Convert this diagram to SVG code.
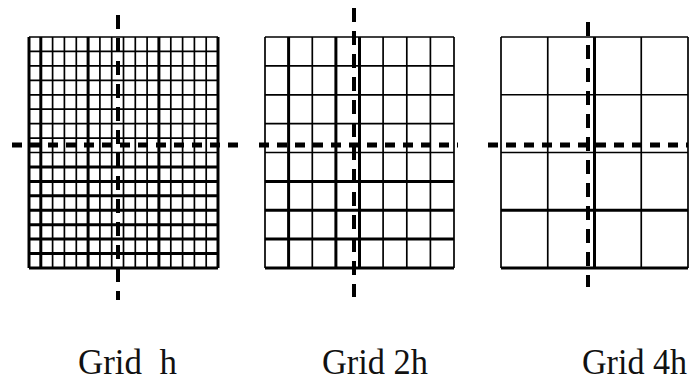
<svg xmlns="http://www.w3.org/2000/svg" width="693" height="383" viewBox="0 0 693 383">
<style>
.g line{stroke:#000;stroke-width:1.7}
.g .t{stroke-width:3}
.bg{fill:#fff}
.hd{stroke:#000;stroke-width:5;stroke-dasharray:10 8;fill:none}
.vd{stroke:#000;stroke-width:4;stroke-dasharray:14 9;fill:none}
.lbl{font-family:"Liberation Serif","Times New Roman",serif;font-size:36px;fill:#111;white-space:pre}
</style>
<rect width="693" height="383" fill="#fff"/>
<g id="grid-h" class="g">
<rect class="bg" x="29" y="37" width="189" height="231"/>
<line class="t" x1="29" y1="37" x2="29" y2="268"/>
<line class="t" x1="40.8" y1="37" x2="40.8" y2="268"/>
<line x1="52.6" y1="37" x2="52.6" y2="268"/>
<line x1="64.4" y1="37" x2="64.4" y2="268"/>
<line x1="76.3" y1="37" x2="76.3" y2="268"/>
<line class="t" x1="88.1" y1="37" x2="88.1" y2="268"/>
<line x1="99.9" y1="37" x2="99.9" y2="268"/>
<line x1="111.7" y1="37" x2="111.7" y2="268"/>
<line x1="123.5" y1="37" x2="123.5" y2="268"/>
<line x1="135.3" y1="37" x2="135.3" y2="268"/>
<line x1="147.1" y1="37" x2="147.1" y2="268"/>
<line class="t" x1="158.9" y1="37" x2="158.9" y2="268"/>
<line x1="170.8" y1="37" x2="170.8" y2="268"/>
<line x1="182.6" y1="37" x2="182.6" y2="268"/>
<line x1="194.4" y1="37" x2="194.4" y2="268"/>
<line x1="206.2" y1="37" x2="206.2" y2="268"/>
<line class="t" x1="218" y1="37" x2="218" y2="268"/>
<line x1="29" y1="37" x2="218" y2="37"/>
<line x1="29" y1="51.4" x2="218" y2="51.4"/>
<line x1="29" y1="65.9" x2="218" y2="65.9"/>
<line x1="29" y1="80.3" x2="218" y2="80.3"/>
<line x1="29" y1="94.8" x2="218" y2="94.8"/>
<line x1="29" y1="109.2" x2="218" y2="109.2"/>
<line x1="29" y1="123.6" x2="218" y2="123.6"/>
<line x1="29" y1="138.1" x2="218" y2="138.1"/>
<line x1="29" y1="152.5" x2="218" y2="152.5"/>
<line class="t" x1="29" y1="166.9" x2="218" y2="166.9"/>
<line class="t" x1="29" y1="181.4" x2="218" y2="181.4"/>
<line class="t" x1="29" y1="195.8" x2="218" y2="195.8"/>
<line class="t" x1="29" y1="210.3" x2="218" y2="210.3"/>
<line class="t" x1="29" y1="224.7" x2="218" y2="224.7"/>
<line class="t" x1="29" y1="239.1" x2="218" y2="239.1"/>
<line class="t" x1="29" y1="253.6" x2="218" y2="253.6"/>
<line class="t" x1="29" y1="268" x2="218" y2="268"/>
</g>
<g id="grid-2h" class="g">
<rect class="bg" x="265" y="37" width="189" height="231"/>
<line x1="265" y1="37" x2="265" y2="268"/>
<line class="t" x1="288.6" y1="37" x2="288.6" y2="268"/>
<line x1="312.3" y1="37" x2="312.3" y2="268"/>
<line class="t" x1="335.9" y1="37" x2="335.9" y2="268"/>
<line class="t" x1="359.5" y1="37" x2="359.5" y2="268"/>
<line x1="383.1" y1="37" x2="383.1" y2="268"/>
<line x1="406.8" y1="37" x2="406.8" y2="268"/>
<line x1="430.4" y1="37" x2="430.4" y2="268"/>
<line x1="454" y1="37" x2="454" y2="268"/>
<line x1="265" y1="37" x2="454" y2="37"/>
<line x1="265" y1="65.9" x2="454" y2="65.9"/>
<line x1="265" y1="94.8" x2="454" y2="94.8"/>
<line x1="265" y1="123.6" x2="454" y2="123.6"/>
<line x1="265" y1="152.5" x2="454" y2="152.5"/>
<line class="t" x1="265" y1="181.4" x2="454" y2="181.4"/>
<line class="t" x1="265" y1="210.3" x2="454" y2="210.3"/>
<line class="t" x1="265" y1="239.1" x2="454" y2="239.1"/>
<line class="t" x1="265" y1="268" x2="454" y2="268"/>
</g>
<g id="grid-4h" class="g">
<rect class="bg" x="501" y="37" width="187" height="231"/>
<line x1="501" y1="37" x2="501" y2="268"/>
<line x1="547.75" y1="37" x2="547.75" y2="268"/>
<line class="t" x1="594.5" y1="37" x2="594.5" y2="268"/>
<line x1="641.25" y1="37" x2="641.25" y2="268"/>
<line x1="688" y1="37" x2="688" y2="268"/>
<line x1="501" y1="37" x2="688" y2="37"/>
<line x1="501" y1="94.75" x2="688" y2="94.75"/>
<line x1="501" y1="152.5" x2="688" y2="152.5"/>
<line class="t" x1="501" y1="210.25" x2="688" y2="210.25"/>
<line class="t" x1="501" y1="268" x2="688" y2="268"/>
</g>
<g id="axes">
<line class="hd" x1="12" y1="145" x2="242" y2="145"/>
<line class="vd" x1="118" y1="15" x2="118" y2="300"/>
<line class="hd" x1="259" y1="145" x2="458" y2="145"/>
<line class="vd" x1="354" y1="8" x2="354" y2="297"/>
<line class="hd" x1="488" y1="145" x2="688" y2="145"/>
<line class="vd" x1="588" y1="22" x2="588" y2="287" stroke-dasharray="15 8 12 8"/>
</g>
<g id="labels">
<text class="lbl" x="78" y="374" textLength="99" lengthAdjust="spacingAndGlyphs" xml:space="preserve">Grid  h</text>
<text class="lbl" x="322" y="374" textLength="106" lengthAdjust="spacingAndGlyphs">Grid 2h</text>
<text class="lbl" x="582" y="374" textLength="105" lengthAdjust="spacingAndGlyphs">Grid 4h</text>
</g>
</svg>
